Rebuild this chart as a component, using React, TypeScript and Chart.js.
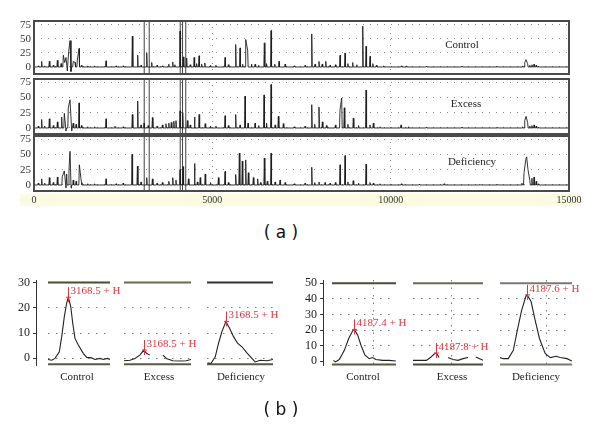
import React, { useEffect, useRef } from "react";
import { Chart, registerables } from "chart.js";
Chart.register(...registerables);

// ---------- (a) full spectra ----------
const xTicksA = [0, 5000, 10000, 15000];
const yTicksA = [0, 25, 50, 75];
const windowLines = [3090, 3230, 4100, 4165, 4255];
const panelNames = ["Control", "Excess", "Deficiency"];

const controlMz = [120, 215, 300, 430, 540, 655, 760, 822, 860, 897, 934, 973, 1010, 1037, 1100, 1150, 1215, 1262, 1330, 1500, 1700, 2019, 2300, 2500, 2757, 2907, 3000, 3160, 3300, 3450, 3600, 3780, 3890, 3950, 4095, 4187, 4280, 4380, 4490, 4560, 4627, 4700, 4790, 4950, 5100, 5356, 5450, 5655, 5776, 5850, 5936, 5990, 6100, 6200, 6300, 6458, 6520, 6646, 6750, 6870, 7040, 7300, 7600, 7787, 7880, 7990, 8080, 8180, 8300, 8450, 8580, 8720, 8800, 8936, 9050, 9217, 9310, 9421, 9500, 9600, 9800, 10300, 10450, 11000, 12000, 13000, 13700, 13760, 13795, 13840, 13900, 13960, 14020, 14080, 14150];
const controlH = [2, 10, 2, 10, 3, 12, 6, 21, 8, 17, -7, 28, 47, -8, 10, 8, 12, 33, 3, 2, 2, 11, 2, 2, 55, 21, 3, 25, 8, 3, 2, 5, 9, 4, 64, 18, 16, 4, 17, 6, 20, 5, 7, 3, 3, 17, 4, 40, 34, 5, 49, 30, 5, 5, 3, 43, 6, 65, 5, 10, 5, 2, 3, 59, 5, 10, 5, 10, 3, 4, 21, 25, 6, 8, 4, 73, 37, 19, 6, 3, 2, 2, 2, 1, 1, 1, 2, 8, 13, 6, 3, 4, 5, 3, 1];

const excessMz = [120, 215, 300, 430, 540, 655, 776, 850, 897, 962, 1010, 1057, 1100, 1180, 1262, 1330, 1500, 1700, 2019, 2271, 2500, 2757, 2907, 3000, 3085, 3200, 3320, 3450, 3600, 3700, 3780, 3850, 3920, 3980, 4095, 4170, 4300, 4380, 4500, 4630, 4800, 4950, 5100, 5356, 5450, 5655, 5776, 5916, 6000, 6197, 6300, 6449, 6520, 6646, 6760, 6851, 6990, 7300, 7600, 7787, 7870, 7990, 8085, 8200, 8450, 8580, 8627, 8700, 8800, 8953, 9100, 9310, 9420, 9514, 9700, 10290, 10500, 11000, 12000, 13000, 13700, 13760, 13795, 13840, 13900, 13960, 14020, 14080, 14150];
const excessH = [3, 14, 3, 15, 4, 10, 18, 24, -5, 33, 46, -5, 8, 6, 41, 4, 2, 2, 15, 3, 2, 22, 44, 5, 8, 4, 17, 3, 5, 7, 8, 9, 11, 12, 28, 25, 12, 5, 18, 22, 7, 3, 3, 20, 4, 22, 5, 52, 8, 8, 4, 54, 8, 71, 5, 19, 7, 2, 3, 38, 6, 34, 10, 4, 5, 30, 49, 33, 6, 16, 4, 62, 5, 8, 2, 5, 2, 1, 1, 1, 2, 12, 19, 9, 3, 4, 5, 3, 1];

const deficiencyMz = [120, 215, 300, 430, 540, 655, 794, 850, 897, 916, 981, 1010, 1040, 1100, 1180, 1271, 1330, 1500, 1700, 2019, 2300, 2500, 2750, 2900, 3000, 3160, 3320, 3450, 3600, 3780, 3890, 3980, 4095, 4180, 4330, 4500, 4580, 4660, 4800, 4950, 5170, 5356, 5450, 5655, 5757, 5840, 5936, 6010, 6150, 6270, 6350, 6458, 6540, 6646, 6760, 6898, 7040, 7300, 7600, 7787, 7870, 7990, 8160, 8300, 8450, 8580, 8720, 8800, 8950, 9100, 9310, 9420, 9514, 9700, 10300, 10800, 11500, 12500, 13000, 13680, 13740, 13790, 13812, 13850, 13900, 13960, 14020, 14080, 14150];
const deficiencyH = [3, 10, 3, 12, 4, 13, 14, 23, -5, 18, 25, 55, -5, 8, 6, 33, 4, 2, 2, 10, 2, 3, 50, 31, 5, 12, 10, 3, 4, 6, 12, 8, 25, 30, 10, 35, 5, 12, 18, 4, 12, 22, 4, 17, 52, 39, 41, 20, 12, 10, 4, 44, 6, 52, 5, 8, 4, 2, 3, 29, 4, 5, 4, 3, 4, 33, 48, 5, 7, 3, 34, 4, 3, 2, 2, 1, 2, 1, 1, 3, 20, 42, 46, 25, 8, 11, 13, 6, 2];

// ---------- (b) zoomed peaks ----------
const leftTicks = [0, 10, 20, 30];
const rightTicks = [0, 10, 20, 30, 40, 50];

const lcMz = [3139, 3144.4, 3149.2, 3155.4, 3158.9, 3162.7, 3166.1, 3168.5, 3172, 3174.9, 3178.2, 3183, 3190.2, 3195.2, 3202.4, 3207.2, 3214.5, 3219.3, 3225.1, 3229];
const lcY = [-0.4, -0.7, 0, 2.6, 8.6, 16.5, 21.9, 24.2, 20.5, 13.9, 7.9, 5.3, 2, 0.4, 0.2, -0.4, 0, -0.4, 0, -0.4];
const leMz = [3139.5, 3148.2, 3155.5, 3162.7, 3168.5, 3172.4, 3177.2, 3186, 3196.5, 3201.4, 3211, 3223.2, 3230.5, 3237.5];
const leY = [-0.9, -0.7, 0, 1.3, 3.3, 2, 1.3, null, 1.3, 0, -0.9, -1, -0.9, -0.4];
const ldMz = [3141.8, 3146.8, 3153, 3157.8, 3162.7, 3168.5, 3173.8, 3179.6, 3185.4, 3191.8, 3199, 3206.3, 3211, 3218.3, 3228, 3237];
const ldY = [-1.7, -2, 0.6, 6, 10.6, 14.6, 11.9, 8.6, 6, 4.6, 2.2, 0, -1.4, -0.7, -0.9, -0.4];

const rcMz = [4161.2, 4163.6, 4168.6, 4174.9, 4180.4, 4185.4, 4187.4, 4191.7, 4195.8, 4200.8, 4206.2, 4210.4, 4214.5, 4223, 4231.2, 4239.6];
const rcY = [0.6, -0.4, 1.1, 7, 14.6, 19.5, 20.4, 16.7, 10.3, 3.9, 1.7, 2.4, 1.1, 0.6, 0.6, 0.2];
const reMz = [4158.6, 4175.3, 4180.3, 4185.7, 4187.8, 4191.1, 4196, 4202.3, 4208.6, 4214.8, 4221.1, 4227.3, 4232, 4236.9, 4241.9, 4246];
const reY = [0.6, 0.6, 2.4, 5, 5.3, 2.4, null, 2.4, 1.1, 0.6, 1.7, 2.4, null, 2.8, 1.7, 0.6];
const rdMz = [4153.9, 4158, 4164.2, 4170.5, 4175.5, 4180.9, 4186, 4187.6, 4192.6, 4197.6, 4203, 4210.1, 4216.4, 4223.9, 4228.9, 4237.2, 4243.5];
const rdY = [2.4, 1.7, 1.7, 7, 20, 32.8, 41.4, 42.5, 38.2, 26.4, 14.6, 5, 2.4, 3.2, 2.4, 1.7, 0.2];

const SERIF = "'Liberation Serif', 'DejaVu Serif', serif";

function buildSpectrum(mz: number[], h: number[]) {
  const hw = 14;
  const join = 60;
  const pts: { x: number; y: number }[] = [{ x: 0, y: 0 }];
  for (let i = 0; i < mz.length; i++) {
    const prevClose = i > 0 && mz[i] - mz[i - 1] < join;
    const nextClose = i < mz.length - 1 && mz[i + 1] - mz[i] < join;
    if (!prevClose) pts.push({ x: mz[i] - hw, y: 0 });
    pts.push({ x: mz[i], y: h[i] });
    if (!nextClose) pts.push({ x: mz[i] + hw, y: 0 });
  }
  pts.push({ x: 15000, y: 0 });
  return pts;
}

function windowData(yMin: number, yMax: number) {
  const out: any[] = [];
  windowLines.forEach((x) => {
    out.push({ x, y: yMin }, { x, y: yMax }, { x, y: null });
  });
  return out;
}

const framePlugin = {
  id: "frame",
  afterDatasetsDraw(chart: any) {
    const { ctx, chartArea: a } = chart;
    ctx.save();
    ctx.strokeStyle = "#4a4a4a";
    ctx.lineWidth = 2;
    ctx.strokeRect(a.left, a.top, a.right - a.left, a.bottom - a.top);
    ctx.restore();
  },
};

function topConfig(mz: number[], h: number[], yMin: number, yMax: number, showX: boolean): any {
  return {
    type: "line",
    data: {
      datasets: [
        { data: buildSpectrum(mz, h), borderColor: "#1e1e1e", borderWidth: 0.9, pointRadius: 0, tension: 0 },
        { data: windowData(yMin, yMax), borderColor: "#404040", borderWidth: 1, pointRadius: 0, spanGaps: false },
      ],
    },
    options: {
      animation: false,
      responsive: false,
      maintainAspectRatio: false,
      events: [],
      layout: { padding: { top: 10, right: 31, bottom: showX ? 4 : 10, left: 0 } },
      plugins: { legend: { display: false }, tooltip: { enabled: false } },
      scales: {
        x: {
          type: "linear",
          min: 0,
          max: 15000,
          afterBuildTicks: (s: any) => { s.ticks = xTicksA.map((v) => ({ value: v })); },
          afterFit: (s: any) => { s.height = showX ? 15 : 0; },
          grid: { color: "#8a8a8a", drawTicks: false, lineWidth: 1 },
          border: { display: false, dash: [1, 5] },
          ticks: {
            display: showX,
            autoSkip: false,
            maxRotation: 0,
            padding: 3,
            color: "#333",
            font: { family: SERIF, size: 10 },
            callback: (v: any) => String(v),
          },
        },
        y: {
          min: yMin,
          max: yMax,
          afterBuildTicks: (s: any) => { s.ticks = yTicksA.map((v) => ({ value: v })); },
          afterFit: (s: any) => { s.width = 34; },
          grid: { color: "#8a8a8a", drawTicks: false, lineWidth: 1 },
          border: { display: false, dash: [1, 6] },
          ticks: { autoSkip: false, padding: 3, color: "#333", font: { family: SERIF, size: 11 }, callback: (v: any) => String(v) },
        },
      },
    },
    plugins: [framePlugin],
  };
}

function markPlugin(mz: number, val: number, label: string) {
  return {
    id: "mark",
    afterDatasetsDraw(chart: any) {
      const { ctx } = chart;
      const px = Math.round(chart.scales.x.getPixelForValue(mz)) + 0.5;
      const py = chart.scales.y.getPixelForValue(val);
      ctx.save();
      ctx.strokeStyle = "#e4333d";
      ctx.lineWidth = 1;
      ctx.beginPath();
      ctx.moveTo(px, py - 10);
      ctx.lineTo(px, py + 5);
      ctx.moveTo(px - 2.5, py);
      ctx.lineTo(px + 2.5, py);
      ctx.stroke();
      ctx.fillStyle = "#e4333d";
      ctx.font = `11px ${SERIF}`;
      ctx.textBaseline = "middle";
      ctx.textAlign = "left";
      ctx.fillText(label, px + 2, py - 6);
      ctx.restore();
    },
  };
}

function subConfig(
  mz: number[], y: (number | null)[], xMin: number, xMax: number,
  yMin: number, yMax: number, topVal: number, botVal: number,
  gridY: number[], gridX: number[], topColor: string, botColor: string,
  mark: [number, number, string], pad: number
): any {
  return {
    type: "line",
    data: {
      datasets: [
        { data: mz.map((x, i) => ({ x, y: y[i] })), borderColor: "#222", borderWidth: 1.1, pointRadius: 0, tension: 0, spanGaps: false },
        { data: [{ x: xMin, y: topVal }, { x: xMax, y: topVal }], borderColor: topColor, borderWidth: 2, pointRadius: 0 },
        { data: [{ x: xMin, y: botVal }, { x: xMax, y: botVal }], borderColor: botColor, borderWidth: 2, pointRadius: 0 },
      ],
    },
    options: {
      animation: false,
      responsive: false,
      maintainAspectRatio: false,
      events: [],
      layout: { padding: { top: 10, bottom: 10, left: pad, right: pad } },
      plugins: { legend: { display: false }, tooltip: { enabled: false } },
      scales: {
        x: {
          type: "linear",
          min: xMin,
          max: xMax,
          afterBuildTicks: (s: any) => { s.ticks = gridX.map((v) => ({ value: v })); },
          afterFit: (s: any) => { s.height = 0; },
          grid: { color: "#7a7a7a", drawTicks: false },
          border: { display: false, dash: [1.5, 6] },
          ticks: { display: false },
        },
        y: {
          min: yMin,
          max: yMax,
          afterBuildTicks: (s: any) => { s.ticks = gridY.map((v) => ({ value: v })); },
          afterFit: (s: any) => { s.width = 0; },
          grid: { color: "#7a7a7a", drawTicks: false },
          border: { display: false, dash: [1.5, 6.5] },
          ticks: { display: false },
        },
      },
    },
    plugins: [markPlugin(mark[0], mark[1], mark[2])],
  };
}

function axisConfig(yMin: number, yMax: number, ticks: number[], width: number): any {
  return {
    type: "line",
    data: { datasets: [] },
    options: {
      animation: false,
      responsive: false,
      maintainAspectRatio: false,
      events: [],
      layout: { padding: { top: 10, bottom: 10, left: 0, right: 2 } },
      plugins: { legend: { display: false }, tooltip: { enabled: false } },
      scales: {
        x: { type: "linear", display: false, min: 0, max: 1 },
        y: {
          min: yMin,
          max: yMax,
          afterBuildTicks: (s: any) => { s.ticks = ticks.map((v) => ({ value: v })); },
          afterFit: (s: any) => { s.width = width; },
          grid: { drawOnChartArea: false, drawTicks: true, tickLength: 3, color: "#333" },
          border: { display: true, color: "#333", width: 1 },
          ticks: { autoSkip: false, padding: 3, color: "#222", font: { family: SERIF, size: 12 }, callback: (v: any) => String(v) },
        },
      },
    },
  };
}

function ChartBox({ left, top, width, height, make }: any) {
  const ref = useRef<HTMLCanvasElement>(null);
  useEffect(() => {
    const chart = new Chart(ref.current as HTMLCanvasElement, make());
    return () => chart.destroy();
  }, []);
  return (
    <canvas
      ref={ref}
      width={width}
      height={height}
      style={{ position: "absolute", left, top, width, height }}
    />
  );
}

function Label({ x, y, text, size = 11, family = SERIF, color = "#222" }: any) {
  return (
    <div
      style={{
        position: "absolute",
        left: x,
        top: y,
        transform: "translate(-50%, -50%)",
        fontFamily: family,
        fontSize: size,
        color,
        whiteSpace: "pre",
        lineHeight: 1,
      }}
    >
      {text}
    </div>
  );
}

export default function App() {
  const pad = 14;
  const subs = [
    // left group
    { l: 48, r: 110, make: () => subConfig(lcMz, lcY, 3139, 3229, -3, 31, 30, -2.3, [0, 10, 20], [], "#4b4b36", "#5a5a3e", [3168.5, 24.2, "3168.5 + H"], pad) },
    { l: 124, r: 191, make: () => subConfig(leMz, leY, 3139.5, 3237.5, -3, 31, 30, -2.3, [0, 10, 20], [], "#6a6a50", "#5a5a3e", [3168.5, 3.3, "3168.5 + H"], pad) },
    { l: 207, r: 273, make: () => subConfig(ldMz, ldY, 3141, 3237, -3, 31, 30, -2.3, [0, 10, 20], [], "#333333", "#5a5a3e", [3168.5, 14.6, "3168.5 + H"], pad) },
    // right group
    { l: 332, r: 396, make: () => subConfig(rcMz, rcY, 4159.4, 4239.8, -3, 52, 50, -2, [10, 20, 30, 40], [4212], "#4b4b36", "#5a5a3e", [4187.4, 20.4, "4187.4 + H"], pad) },
    { l: 413, r: 483, make: () => subConfig(reMz, reY, 4158.6, 4246, -3, 52, 50, -2, [10, 20, 30, 40], [4206.6], "#6a6a50", "#4b4b36", [4187.8, 5.3, "4187.8 + H"], pad) },
    { l: 500, r: 572, make: () => subConfig(rdMz, rdY, 4153.9, 4243.5, -3, 52, 50, -2, [10, 20, 30, 40], [4212.2], "#777777", "#7a7a6a", [4187.6, 42.5, "4187.6 + H"], pad) },
  ];
  const subLabels = [
    { x: 77, t: "Control" }, { x: 159, t: "Excess" }, { x: 241, t: "Deficiency" },
    { x: 363, t: "Control" }, { x: 452, t: "Excess" }, { x: 536, t: "Deficiency" },
  ];
  return (
    <div style={{ position: "absolute", left: 0, top: 0, width: 600, height: 432, background: "#fff", overflow: "hidden" }}>
      <div style={{ position: "absolute", left: 20, top: 194, width: 562, height: 12, background: "#fbfbe2" }} />
      <ChartBox left={0} top={11} width={600} height={73} make={() => topConfig(controlMz, controlH, -12.5, 82, false)} />
      <ChartBox left={0} top={69} width={600} height={75} make={() => topConfig(excessMz, excessH, -9.8, 80, false)} />
      <ChartBox left={0} top={126} width={600} height={84} make={() => topConfig(deficiencyMz, deficiencyH, -9.8, 80, true)} />
      <Label x={462} y={44} text={panelNames[0]} />
      <Label x={466} y={103} text={panelNames[1]} />
      <Label x={472} y={161} text={panelNames[2]} />
      <Label x={281} y={232} text="( a )" size={17} family="'DejaVu Sans', sans-serif" color="#111" />

      <ChartBox left={0} top={270} width={38} height={106} make={() => axisConfig(-3, 31, leftTicks, 36)} />
      <ChartBox left={280} top={270} width={45} height={106} make={() => axisConfig(-3, 52, rightTicks, 43)} />
      {subs.map((s, i) => (
        <ChartBox key={i} left={s.l - pad} top={270} width={s.r - s.l + 2 * pad} height={106} make={s.make} />
      ))}
      {subLabels.map((s, i) => (
        <Label key={i} x={s.x} y={376} text={s.t} />
      ))}
      <Label x={281} y={409} text="( b )" size={17} family="'DejaVu Sans', sans-serif" color="#111" />
    </div>
  );
}
